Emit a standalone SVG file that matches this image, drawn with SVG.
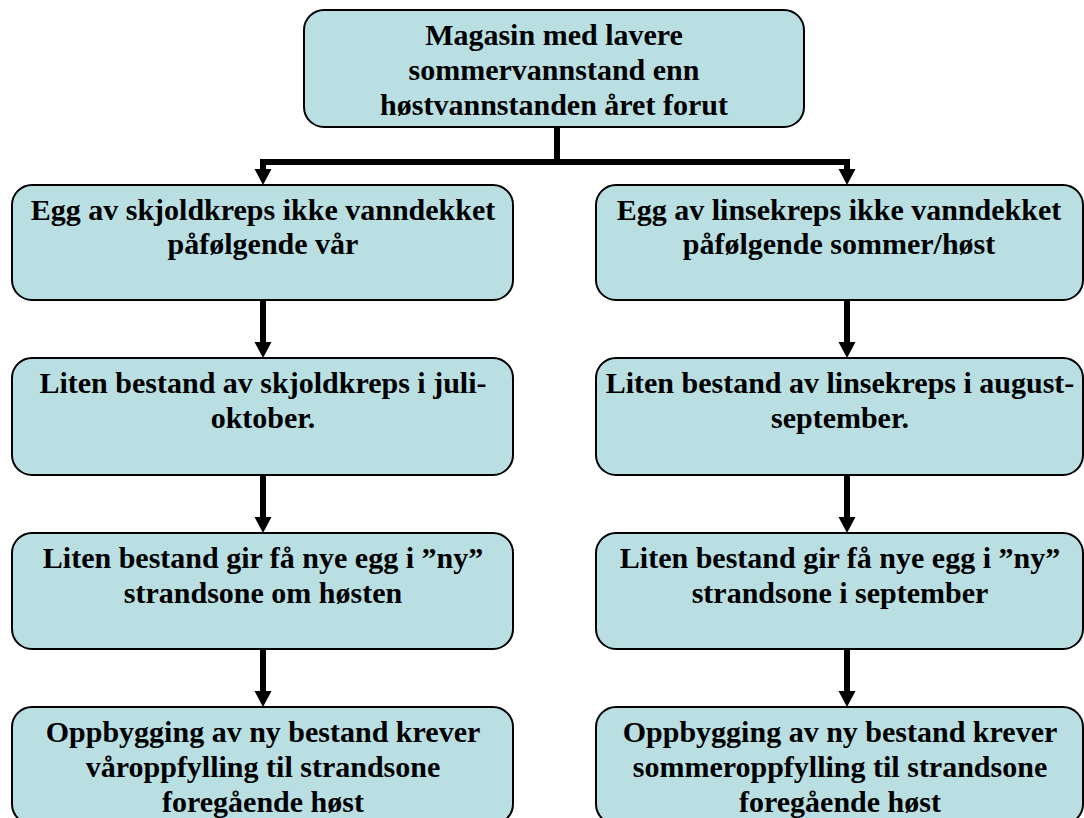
<svg xmlns="http://www.w3.org/2000/svg" width="1084" height="818" viewBox="0 0 1084 818">
  <style>
    .box { fill: #b9dfe3; stroke: #000; stroke-width: 2; }
    .lbl { font-family: "Liberation Serif", "Times New Roman", serif; font-weight: bold; font-size: 30px; fill: #000; text-anchor: middle; }
    .wire { fill: none; stroke: #000; stroke-width: 6; stroke-linecap: butt; stroke-linejoin: miter; }
  </style>
  <defs>
    <!-- arrowhead with its tip at the origin, pointing down -->
    <path id="ah" d="M-8.5,-16 L8.5,-16 L0,0 Z" fill="#000"/>
  </defs>

  <!-- connectors -->
  <g id="connectors">
    <path class="wire" d="M557,127 V162"/>
    <path class="wire" d="M263,170 V162 H847 V170"/>
    <use href="#ah" x="263" y="185"/>
    <use href="#ah" x="847" y="185"/>

    <path class="wire" d="M263,300 V343"/>
    <use href="#ah" x="263" y="358"/>
    <path class="wire" d="M847,300 V343"/>
    <use href="#ah" x="847" y="358"/>

    <path class="wire" d="M263,475 V518"/>
    <use href="#ah" x="263" y="533"/>
    <path class="wire" d="M847,475 V518"/>
    <use href="#ah" x="847" y="533"/>

    <path class="wire" d="M263,649 V692"/>
    <use href="#ah" x="263" y="707"/>
    <path class="wire" d="M847,649 V692"/>
    <use href="#ah" x="847" y="707"/>
  </g>

  <g id="top">
    <rect class="box" x="304" y="10" width="500" height="117" rx="20"/>
    <text class="lbl" x="554" y="45">Magasin med lavere</text>
    <text class="lbl" x="554" y="80">sommervannstand enn</text>
    <text class="lbl" x="554" y="115">høstvannstanden året forut</text>
  </g>

  <g id="left-1">
    <rect class="box" x="12" y="185" width="501" height="115" rx="20"/>
    <text class="lbl" x="263" y="220">Egg av skjoldkreps ikke vanndekket</text>
    <text class="lbl" x="263" y="254">påfølgende vår</text>
  </g>
  <g id="right-1">
    <rect class="box" x="596" y="185" width="487" height="115" rx="20"/>
    <text class="lbl" x="839" y="220">Egg av linsekreps ikke vanndekket</text>
    <text class="lbl" x="839" y="254">påfølgende sommer/høst</text>
  </g>

  <g id="left-2">
    <rect class="box" x="12" y="358" width="501" height="117" rx="20"/>
    <text class="lbl" x="263" y="393">Liten bestand av skjoldkreps i juli-</text>
    <text class="lbl" x="263" y="428">oktober.</text>
  </g>
  <g id="right-2">
    <rect class="box" x="596" y="358" width="487" height="117" rx="20"/>
    <text class="lbl" x="840" y="393">Liten bestand av linsekreps i august-</text>
    <text class="lbl" x="840" y="428">september.</text>
  </g>

  <g id="left-3">
    <rect class="box" x="12" y="533" width="501" height="116" rx="20"/>
    <text class="lbl" x="263" y="568">Liten bestand gir få nye egg i ”ny”</text>
    <text class="lbl" x="263" y="603">strandsone om høsten</text>
  </g>
  <g id="right-3">
    <rect class="box" x="596" y="533" width="487" height="116" rx="20"/>
    <text class="lbl" x="840" y="568">Liten bestand gir få nye egg i ”ny”</text>
    <text class="lbl" x="840" y="603">strandsone i september</text>
  </g>

  <g id="left-4">
    <rect class="box" x="12" y="707" width="501" height="117" rx="20"/>
    <text class="lbl" x="263" y="742">Oppbygging av ny bestand krever</text>
    <text class="lbl" x="263" y="777">våroppfylling til strandsone</text>
    <text class="lbl" x="263" y="812">foregående høst</text>
  </g>
  <g id="right-4">
    <rect class="box" x="596" y="707" width="487" height="117" rx="20"/>
    <text class="lbl" x="840" y="742">Oppbygging av ny bestand krever</text>
    <text class="lbl" x="840" y="777">sommeroppfylling til strandsone</text>
    <text class="lbl" x="840" y="812">foregående høst</text>
  </g>
</svg>
